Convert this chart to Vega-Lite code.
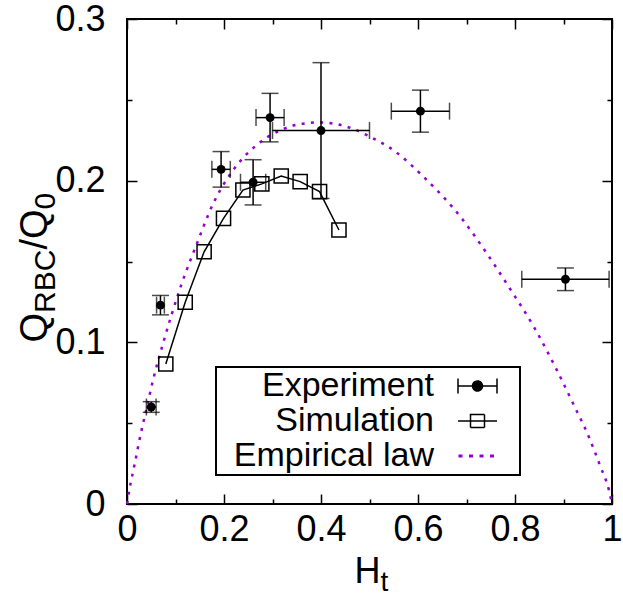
{
  "$schema": "https://vega.github.io/schema/vega-lite/v6.json",
  "width": 485,
  "height": 485,
  "autosize": {"type": "none"},
  "padding": {"left": 127, "top": 19, "right": 11, "bottom": 91},
  "background": "white",
  "datasets": {
    "experiment": [
      {"x": 0.050, "xe": 0.010, "y": 0.060, "ye": 0.0033},
      {"x": 0.069, "xe": 0.008, "y": 0.123, "ye": 0.006},
      {"x": 0.194, "xe": 0.019, "y": 0.207, "ye": 0.011},
      {"x": 0.260, "xe": 0.026, "y": 0.199, "ye": 0.014},
      {"x": 0.295, "xe": 0.029, "y": 0.239, "ye": 0.015},
      {"x": 0.400, "xe": 0.100, "y": 0.231, "ye": 0.042},
      {"x": 0.605, "xe": 0.060, "y": 0.243, "ye": 0.013},
      {"x": 0.904, "xe": 0.090, "y": 0.139, "ye": 0.007}
    ],
    "simulation": [
      {"x": 0.080, "y": 0.0866},
      {"x": 0.120, "y": 0.1248},
      {"x": 0.159, "y": 0.156},
      {"x": 0.199, "y": 0.1767},
      {"x": 0.239, "y": 0.1942},
      {"x": 0.278, "y": 0.198},
      {"x": 0.318, "y": 0.2029},
      {"x": 0.357, "y": 0.1994},
      {"x": 0.397, "y": 0.1932},
      {"x": 0.437, "y": 0.1695}
    ],
    "law": [
      {"x": 0, "y": 0},
      {"x": 0.005, "y": 0.009},
      {"x": 0.016, "y": 0.025},
      {"x": 0.028, "y": 0.043},
      {"x": 0.041, "y": 0.060},
      {"x": 0.054, "y": 0.077},
      {"x": 0.075, "y": 0.100},
      {"x": 0.109, "y": 0.133},
      {"x": 0.144, "y": 0.161},
      {"x": 0.178, "y": 0.186},
      {"x": 0.219, "y": 0.2066},
      {"x": 0.267, "y": 0.222},
      {"x": 0.315, "y": 0.231},
      {"x": 0.357, "y": 0.235},
      {"x": 0.398, "y": 0.236},
      {"x": 0.453, "y": 0.2334},
      {"x": 0.501, "y": 0.2272},
      {"x": 0.553, "y": 0.218},
      {"x": 0.611, "y": 0.2025},
      {"x": 0.690, "y": 0.1767},
      {"x": 0.735, "y": 0.158},
      {"x": 0.790, "y": 0.133},
      {"x": 0.840, "y": 0.109},
      {"x": 0.886, "y": 0.083},
      {"x": 0.920, "y": 0.062},
      {"x": 0.953, "y": 0.041},
      {"x": 0.975, "y": 0.024},
      {"x": 0.9945, "y": 0.0076},
      {"x": 1, "y": 0}
    ]
  },
  "config": {
    "font": "Liberation Sans",
    "view": {"stroke": "black", "strokeWidth": 2},
    "axis": {
      "domain": false,
      "grid": false,
      "tickColor": "black",
      "tickWidth": 1.5,
      "labelColor": "black",
      "labelFont": "Liberation Sans",
      "labelFontSize": 36,
      "labelOverlap": false,
      "labelFlush": false,
      "labelBound": false,
      "format": "~g",
      "titleColor": "black",
      "titleFont": "Liberation Sans",
      "titleFontWeight": "normal",
      "titlePadding": 0
    }
  },
  "resolve": {"axis": {"x": "independent", "y": "independent"}},
  "layer": [
    {
      "data": {"name": "law"},
      "mark": {"type": "line", "interpolate": "monotone", "strokeWidth": 2.5, "strokeDash": [3, 6.3]},
      "encoding": {
        "x": {"field": "x", "type": "quantitative",
          "scale": {"domain": [0, 1], "nice": false, "zero": false},
          "axis": {"orient": "bottom", "values": [0, 0.2, 0.4, 0.6, 0.8, 1], "tickSize": -10, "labelPadding": 18, "labelDx": 4,
            "title": "H", "titleX": 227, "titleY": 78, "titleAlign": "left", "titleBaseline": "alphabetic", "titleAngle": 0, "titleFontSize": 36}},
        "y": {"field": "y", "type": "quantitative",
          "scale": {"domain": [0, 0.3], "nice": false, "zero": false},
          "axis": {"orient": "left", "values": [0, 0.1, 0.2, 0.3], "tickSize": -10, "labelPadding": 32,
            "title": "Q", "titleX": -81, "titleY": 323, "titleAlign": "left", "titleBaseline": "alphabetic", "titleAngle": -90, "titleFontSize": 38}},
        "color": {"datum": "Empirical law", "type": "nominal",
          "scale": {"domain": ["Experiment", "Simulation", "Empirical law"], "range": ["black", "black", "#9400d3"]},
          "legend": {
            "orient": "none", "legendX": 89, "legendY": 348, "title": null, "direction": "vertical",
            "labelFont": "Liberation Sans", "labelFontSize": 34, "labelColor": "black",
            "labelAlign": "right", "labelBaseline": "middle", "labelOffset": -60.5, "labelLimit": 400,
            "symbolSize": 100, "symbolOffset": 242.5, "symbolStrokeWidth": 1.5, "rowPadding": 1, "padding": 2,
            "strokeColor": "black",
            "encoding": {
              "legend": {"strokeWidth": {"value": 2}},
              "symbols": {
                "shape": {"condition": [
                  {"test": "datum.value === 'Experiment'", "value": "M-3.9,0H3.9M-3.9,-1.5V1.5M3.9,-1.5V1.5M-1,0A1,1 0 1,0 1,0A1,1 0 1,0 -1,0ZM7.5,0"},
                  {"test": "datum.value === 'Simulation'", "value": "M-3.9,0H3.9M-1.4,-1.3H1.4V1.3H-1.4ZM7.5,0"}
                ], "value": "M-3.8,-0.15H3.4M-3.8,0.15H3.4M7.5,0"},
                "fill": {"condition": {"test": "datum.value === 'Experiment'", "value": "black"}, "value": "transparent"},
                "fillOpacity": {"condition": {"test": "datum.value === 'Experiment'", "value": 1}, "value": 0},
                "stroke": {"condition": {"test": "datum.value === 'Empirical law'", "value": "#9400d3"}, "value": "black"},
                "strokeDash": {"condition": {"test": "datum.value === 'Empirical law'", "value": [4, 6.5]}, "value": [1, 0]},
                "strokeWidth": {"value": 1.5},
                "size": {"value": 100},
                "opacity": {"value": 1}
              }
            }
          }}
      }
    },
    {
      "data": {"name": "simulation"},
      "mark": {"type": "line", "strokeWidth": 1.5, "color": "black"},
      "encoding": {
        "x": {"field": "x", "type": "quantitative",
          "scale": {"domain": [0, 1], "nice": false, "zero": false},
          "axis": {"orient": "bottom", "values": [0.1, 0.3, 0.5, 0.7, 0.9], "tickSize": -5, "labels": false,
            "title": "t", "titleX": 253, "titleY": 86, "titleAlign": "left", "titleBaseline": "alphabetic", "titleAngle": 0, "titleFontSize": 28}},
        "y": {"field": "y", "type": "quantitative",
          "scale": {"domain": [0, 0.3], "nice": false, "zero": false},
          "axis": {"orient": "left", "values": [0.05, 0.15, 0.25], "tickSize": -5, "labels": false,
            "title": "RBC", "titleX": -73, "titleY": 293.4, "titleAlign": "left", "titleBaseline": "alphabetic", "titleAngle": -90, "titleFontSize": 30}}
      }
    },
    {
      "data": {"name": "simulation"},
      "mark": {"type": "point", "shape": "square", "filled": false, "size": 200, "strokeWidth": 1.5, "opacity": 1},
      "encoding": {
        "x": {"field": "x", "type": "quantitative",
          "scale": {"domain": [0, 1], "nice": false, "zero": false},
          "axis": {"orient": "top", "values": [0, 0.2, 0.4, 0.6, 0.8, 1], "tickSize": -10, "labels": false, "title": null}},
        "y": {"field": "y", "type": "quantitative",
          "scale": {"domain": [0, 0.3], "nice": false, "zero": false},
          "axis": {"orient": "right", "values": [0, 0.1, 0.2, 0.3], "tickSize": -10, "labels": false,
            "title": "/Q", "titleX": -566, "titleY": 230.1, "titleAlign": "left", "titleBaseline": "alphabetic", "titleAngle": -90, "titleFontSize": 38}},
        "color": {"datum": "Simulation", "type": "nominal"}
      }
    },
    {
      "data": {"name": "experiment"},
      "mark": {"type": "errorbar", "color": "black", "thickness": 1.5, "ticks": {"size": 17, "thickness": 1.5, "color": "black"}},
      "encoding": {
        "x": {"field": "x", "type": "quantitative", "scale": {"domain": [0, 1], "nice": false, "zero": false}, "axis": null},
        "xError": {"field": "xe"},
        "y": {"field": "y", "type": "quantitative", "scale": {"domain": [0, 0.3], "nice": false, "zero": false}, "axis": null}
      }
    },
    {
      "data": {"name": "experiment"},
      "mark": {"type": "errorbar", "color": "black", "thickness": 1.5, "ticks": {"size": 17, "thickness": 1.5, "color": "black"}},
      "encoding": {
        "x": {"field": "x", "type": "quantitative", "scale": {"domain": [0, 1], "nice": false, "zero": false}, "axis": null},
        "y": {"field": "y", "type": "quantitative", "scale": {"domain": [0, 0.3], "nice": false, "zero": false}, "axis": null},
        "yError": {"field": "ye"}
      }
    },
    {
      "data": {"name": "experiment"},
      "mark": {"type": "point", "shape": "circle", "filled": true, "size": 80, "opacity": 1},
      "encoding": {
        "x": {"field": "x", "type": "quantitative",
          "scale": {"domain": [0, 1], "nice": false, "zero": false},
          "axis": {"orient": "top", "values": [0.1, 0.3, 0.5, 0.7, 0.9], "tickSize": -5, "labels": false, "title": null}},
        "y": {"field": "y", "type": "quantitative",
          "scale": {"domain": [0, 0.3], "nice": false, "zero": false},
          "axis": {"orient": "right", "values": [0.05, 0.15, 0.25], "tickSize": -5, "labels": false,
            "title": "0", "titleX": -558, "titleY": 189.9, "titleAlign": "left", "titleBaseline": "alphabetic", "titleAngle": -90, "titleFontSize": 30}},
        "color": {"datum": "Experiment", "type": "nominal"}
      }
    }
  ]
}
